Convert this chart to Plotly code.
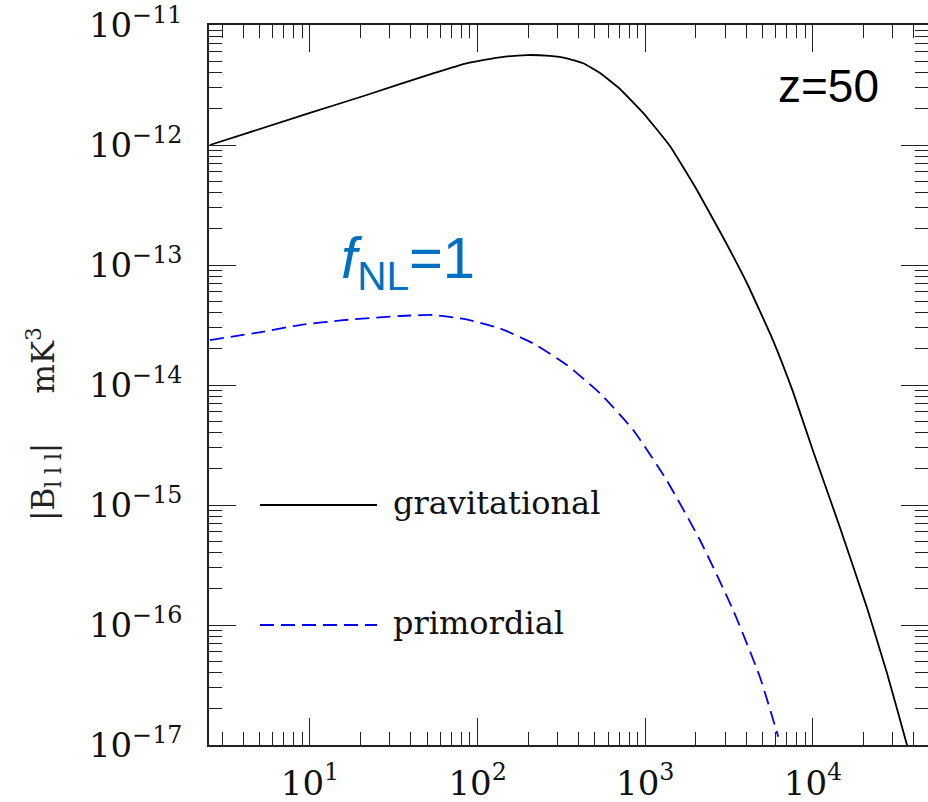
import plotly.graph_objects as go
import math

# ---- data ----
k_grav = [2.53, 10.0, 21.8, 54.3, 71.6, 82.1, 98.6, 136, 196, 270, 340, 427, 537, 706,
          968, 1403, 2032, 2904, 4036, 5768, 7595, 9989, 14455, 20939, 27632, 36374, 40550]
B_grav = [1.00e-12, 1.85e-12, 2.61e-12, 3.96e-12, 4.45e-12, 4.72e-12, 4.98e-12, 5.38e-12,
          5.62e-12, 5.52e-12, 5.28e-12, 4.80e-12, 3.98e-12, 2.93e-12, 1.86e-12, 9.81e-13,
          4.22e-13, 1.71e-13, 7.08e-14, 2.37e-14, 8.8e-15, 2.85e-15, 6.56e-16, 1.41e-16,
          3.98e-17, 1.00e-17, 5.6e-18]

k_prim = [2.53, 5.01, 8.71, 15.8, 34.4, 54.3, 85.9, 136, 215, 340, 536, 847, 1340,
          2118, 3342, 4819, 6209]
B_prim = [2.37e-14, 2.75e-14, 3.16e-14, 3.47e-14, 3.76e-14, 3.83e-14, 3.52e-14, 2.96e-14,
          2.22e-14, 1.47e-14, 8.53e-15, 4.22e-15, 1.61e-15, 5.11e-16, 1.33e-16, 3.71e-17,
          1.17e-17]

x_tickvals = [10, 100, 1000, 10000]
x_ticktext = ["10<sup>1</sup>", "10<sup>2</sup>", "10<sup>3</sup>", "10<sup>4</sup>"]
y_exps = [-17, -16, -15, -14, -13, -12, -11]
y_tickvals = [10.0 ** e for e in y_exps]
y_ticktext = ["10<sup>\u2212%d</sup>" % (-e) for e in y_exps]

series_names = ["gravitational", "primordial"]

# ---- layout geometry ----
W, H = 928, 802
L, R, T, B = 209, 0, 25, 57
PW, PH = W - L - R, H - T - B


def px(xp):
    return (xp - L) / PW


def py(yp):
    return (H - B - yp) / PH


SERIF = "DejaVu Serif"
SANS = "Liberation Sans, Arial"
AX = "#222222"

X_RANGE = [math.log10(2.5), math.log10(2.5) + PW / 167.67]
Y_RANGE = [-17, -11]

fig = go.Figure()
fig.add_trace(go.Scatter(x=k_grav, y=B_grav, mode="lines", name=series_names[0],
                         line=dict(color="black", width=1.8, shape="spline", smoothing=0.35),
                         hoverinfo="skip"))
fig.add_trace(go.Scatter(x=k_prim, y=B_prim, mode="lines", name=series_names[1],
                         line=dict(color="#0000ff", width=1.8, dash="14px,7px",
                                   shape="spline", smoothing=0.5),
                         hoverinfo="skip"))
# empty trace so that the mirrored (top/right) tick axes get drawn
fig.add_trace(go.Scatter(x=[], y=[], xaxis="x2", yaxis="y2", mode="lines",
                         showlegend=False, hoverinfo="skip"))


def minor_vals(lo, hi):
    out = []
    for d in range(lo, hi + 1):
        for m in range(2, 10):
            out.append(m * 10.0 ** d)
    return out


def minor_cfg(vals):
    return dict(ticks="inside", ticklen=13, tickwidth=1.2, tickcolor=AX,
                tickmode="array", tickvals=vals, showgrid=False)


common = dict(type="log", showgrid=False, zeroline=False, showline=True, linecolor=AX,
              linewidth=1.5, ticks="inside", ticklen=27, tickwidth=1.2, tickcolor=AX,
              automargin=False, tickfont=dict(family=SERIF, size=34, color="#111111"))

xminor = minor_vals(0, 4)
yminor = minor_vals(-17, -12)

fig.update_layout(
    xaxis=dict(range=X_RANGE, tickmode="array", tickvals=x_tickvals, ticktext=x_ticktext,
               ticklabelstandoff=7, minor=minor_cfg(xminor), **common),
    yaxis=dict(range=Y_RANGE, tickmode="array", tickvals=y_tickvals, ticktext=y_ticktext,
               ticklabelstandoff=18, minor=minor_cfg(yminor), **common),
    xaxis2=dict(range=X_RANGE, overlaying="x", side="top", anchor="y2", showticklabels=False,
                tickmode="array", tickvals=x_tickvals, minor=minor_cfg(xminor), **common),
    yaxis2=dict(range=Y_RANGE, overlaying="y", side="right", anchor="x2", showticklabels=False,
                tickmode="array", tickvals=y_tickvals, minor=minor_cfg(yminor), **common),
)

NB = "\u00a0"
annotations = [
    dict(text="z=50", x=px(828), y=py(86), xanchor="center", yanchor="middle",
         font=dict(family=SANS, size=46, color="black")),
    dict(text="<i>f</i><sub>NL</sub>=1", x=px(339), y=py(262), xanchor="left", yanchor="middle",
         font=dict(family=SANS, size=58, color="#0070C0")),
    dict(text="|B<sub>l" + NB + "l" + NB + "l</sub>|" + NB * 5 + "mK<sup>3</sup>",
         x=px(43), y=py(424), textangle=-90,
         xanchor="center", yanchor="middle", font=dict(family=SERIF, size=31, color="#222222")),
    dict(text=series_names[0], x=px(391), y=py(503), xanchor="left", yanchor="middle",
         font=dict(family=SERIF, size=32, color="#111111")),
    dict(text=series_names[1], x=px(391), y=py(623), xanchor="left", yanchor="middle",
         font=dict(family=SERIF, size=32, color="#111111")),
]
for a in annotations:
    a.update(xref="paper", yref="paper", showarrow=False)

shapes = [
    dict(type="line", xref="paper", yref="paper", x0=px(260), x1=px(377), y0=py(505), y1=py(505),
         line=dict(color="black", width=1.8)),
    dict(type="line", xref="paper", yref="paper", x0=px(260), x1=px(377), y0=py(625), y1=py(625),
         line=dict(color="#0000ff", width=1.8, dash="14px,7px")),
]

fig.update_layout(width=W, height=H, margin=dict(l=L, r=R, t=T, b=B, pad=0),
                  paper_bgcolor="white", plot_bgcolor="white", showlegend=False,
                  hovermode=False, annotations=annotations, shapes=shapes)

fig.write_html("out.html", config={"displayModeBar": False},
               post_script="document.body.style.margin='0';document.body.style.padding='0';"
                           "document.body.style.overflow='hidden';")
